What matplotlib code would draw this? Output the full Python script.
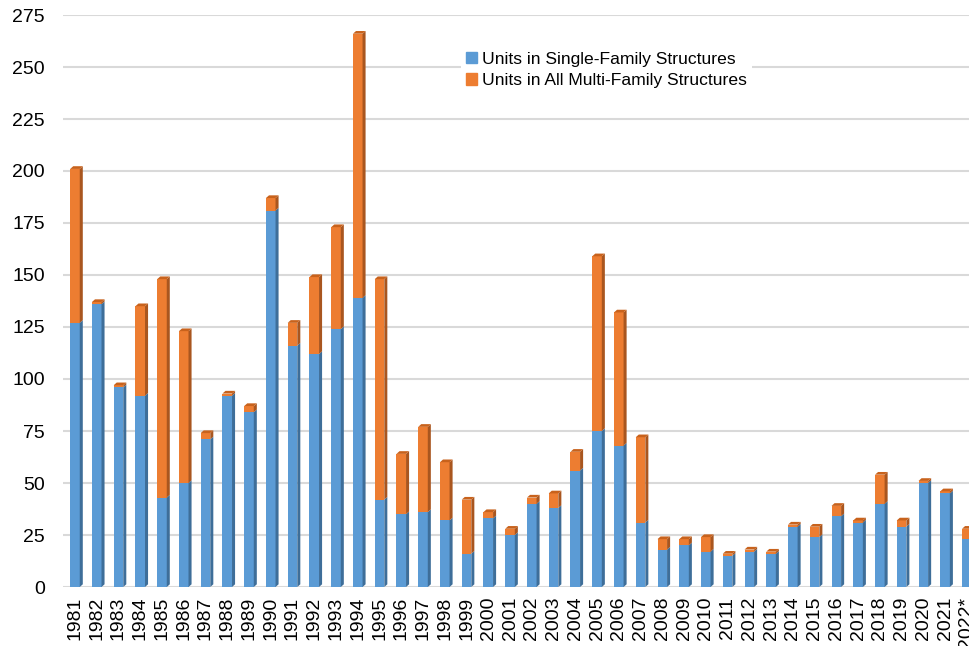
import numpy as np
import matplotlib.pyplot as plt
from matplotlib.patches import Patch

plt.rcParams['font.family'] = ['Liberation Sans', 'DejaVu Sans']

years = [str(y) for y in range(1981, 2022)] + ["2022*"]
single = [127, 136, 96, 92, 43, 50, 71, 92, 84, 181, 116, 112, 124, 139,
          42, 35, 36, 32, 16, 33, 25, 40, 38, 56, 75, 68, 31, 18, 20, 17,
          15, 17, 16, 29, 24, 34, 31, 40, 29, 50, 45, 23]
total = [201, 137, 97, 135, 148, 123, 74, 93, 87, 187, 127, 149, 173, 266,
         148, 64, 77, 60, 42, 36, 28, 43, 45, 65, 159, 132, 72, 23, 23, 24,
         16, 18, 17, 30, 29, 39, 32, 54, 32, 51, 46, 28]
multi = [t - s for t, s in zip(total, single)]

blue, orange = "#5B9BD5", "#ED7D31"
blue_side, orange_side = "#3E6E99", "#A9561F"
orange_top = "#C8621C"

fig = plt.figure(figsize=(9.69, 6.46), dpi=100)
ax = fig.add_axes([63 / 969, 1 - 587 / 646, 1 - 63 / 969, (587 - 15) / 646])

x = np.arange(len(years))
w = 0.44
ax.bar(x, single, w, color=blue, zorder=3)
ax.bar(x, multi, w, bottom=single, color=orange, zorder=3)

# fake 3D side and top faces
dx, dy = 0.14, 1.3
for xi, s, t in zip(x, single, total):
    r = xi + w / 2
    ax.fill([r, r + dx, r + dx, r], [0, dy, s + dy, s], color=blue_side, zorder=3, lw=0)
    ax.fill([r, r + dx, r + dx, r], [s, s + dy, t + dy, t], color=orange_side, zorder=3, lw=0)
    ax.fill([xi - w / 2, xi - w / 2 + dx, r + dx, r], [t, t + dy, t + dy, t],
            color=orange_top, zorder=3, lw=0)

ax.set_xlim(-0.55, 41.1)
ax.set_ylim(0, 275)
ax.set_yticks(range(0, 276, 25))
ax.set_xticks(x)
ax.set_xticklabels(years, rotation=90)
ax.tick_params(axis='both', length=0, labelsize=14, colors='black')
ax.tick_params(axis='y', pad=13)
ax.tick_params(axis='x', pad=7)
ax.grid(axis='y', color='#D9D9D9', lw=1.5, zorder=0)
for sp in ax.spines.values():
    sp.set_visible(False)

handles = [Patch(color=blue), Patch(color=orange)]
labels = ["Units in Single-Family Structures", "Units in All Multi-Family Structures"]
fig.legend(handles, labels, loc='upper left', bbox_to_anchor=(452 / 969, 1 - 38 / 646),
           frameon=True, facecolor='white', edgecolor='none', fancybox=False,
           fontsize=12.6, handlelength=0.6, handleheight=0.6, handletextpad=0.3,
           labelspacing=0.35, borderpad=0.3, framealpha=1)

fig.savefig("out.png", dpi=100)
